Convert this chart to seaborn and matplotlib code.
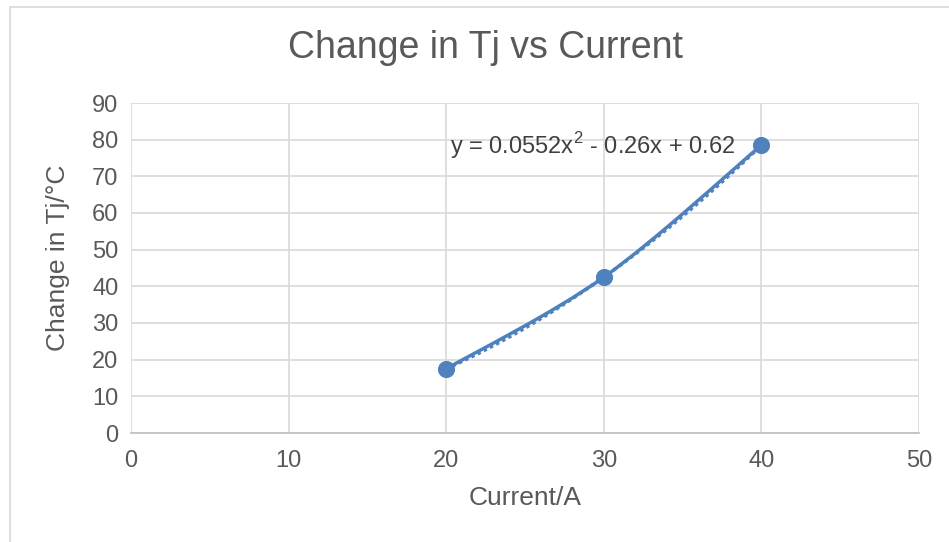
import numpy as np
import pandas as pd
import matplotlib.pyplot as plt
import seaborn as sns
from matplotlib.path import Path
from matplotlib.patches import PathPatch, Rectangle

current = [20, 30, 40]
delta_tj = [17.5, 42.5, 78.5]
x_ticks = [0, 10, 20, 30, 40, 50]
y_ticks = [0, 10, 20, 30, 40, 50, 60, 70, 80, 90]
equation = "y = 0.0552x$^{2}$ - 0.26x + 0.62"

df = pd.DataFrame({"current": current, "delta_tj": delta_tj})

sns.set_style("white")
plt.rcParams["font.family"] = ["Liberation Sans", "DejaVu Sans"]
plt.rcParams["mathtext.fontset"] = "custom"
plt.rcParams["mathtext.rm"] = "Liberation Sans"

blue = "#4F81BD"
text_c = "#595959"

fig = plt.figure(figsize=(9.49, 5.42), dpi=100)
# chart border (cropped like the screenshot)
fig.patches.append(Rectangle((10 / 949, -0.05), 1.0, 1 - 7 / 542 + 0.05,
                             transform=fig.transFigure, fill=False,
                             edgecolor="#D9D9D9", linewidth=1.2))
ax = fig.add_axes([131 / 949, 1 - 433 / 542, (919 - 131) / 949, (433 - 103) / 542])

# polynomial trendline (dotted)
sns.regplot(data=df, x="current", y="delta_tj", order=2, ci=None, ax=ax,
            scatter=False, truncate=True,
            line_kws={"color": blue, "linestyle": (0, (1, 1)), "linewidth": 2.5})

# smoothed line through the points (Catmull-Rom style bezier)
pts = np.column_stack([current, delta_tj]).astype(float)
verts = [tuple(pts[0])]
codes = [Path.MOVETO]
t = 1 / 6
for i in range(len(pts) - 1):
    p0 = pts[i - 1] if i > 0 else pts[i]
    p1, p2 = pts[i], pts[i + 1]
    p3 = pts[i + 2] if i + 2 < len(pts) else pts[i + 1]
    c1 = p1 + (p2 - p0) * t
    c2 = p2 - (p3 - p1) * t
    verts += [tuple(c1), tuple(c2), tuple(p2)]
    codes += [Path.CURVE4] * 3
ax.add_patch(PathPatch(Path(verts, codes), facecolor="none", edgecolor=blue,
                       linewidth=2.5, zorder=3))

sns.scatterplot(data=df, x="current", y="delta_tj", ax=ax, color=blue,
                s=130, edgecolor=blue, zorder=4)

ax.set_xlim(0, 50)
ax.set_ylim(0, 90)
ax.set_xticks(x_ticks)
ax.set_yticks(y_ticks)
ax.grid(True, color="#D9D9D9", linewidth=1.2)
ax.set_axisbelow(True)
for s in ["top", "right", "left"]:
    ax.spines[s].set_visible(False)
ax.spines["bottom"].set_color("#BFBFBF")
ax.spines["bottom"].set_linewidth(1.2)
ax.tick_params(axis="both", length=0, labelsize=17, labelcolor=text_c)
ax.tick_params(axis="x", pad=12)
ax.tick_params(axis="y", pad=9)

ax.set_xlabel("Current/A", fontsize=19, color=text_c, labelpad=10)
ax.set_ylabel("Change in Tj/°C", fontsize=19, color=text_c, labelpad=12)
ax.yaxis.set_label_coords(-0.077, 0.53)
fig.text(486 / 949, 1 - 48 / 542, "Change in Tj vs Current", fontsize=27,
         color=text_c, ha="center", va="center")
ax.text(29.3, 78.3, equation, fontsize=17, color="#404040",
        ha="center", va="center")

fig.savefig("out.png", dpi=100)
